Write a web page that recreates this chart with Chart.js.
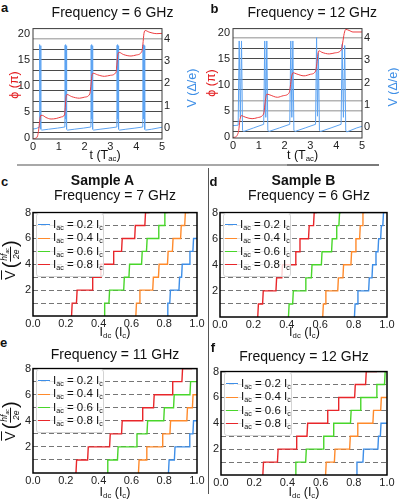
<!DOCTYPE html>
<html>
<head>
<meta charset="utf-8">
<script src="https://cdn.jsdelivr.net/npm/chart.js@4.4.0/dist/chart.umd.min.js"></script>
<style>
body { margin: 0; background: #fff; }
#page { position: relative; width: 399px; height: 502px; overflow: hidden; font-family: "Liberation Sans", Arial, sans-serif; color: #111; }
canvas { position: absolute; }
.txt { position: absolute; white-space: nowrap; line-height: 1; transform: translate(-50%, -50%); }
.rot { transform: translate(-50%, -50%) rotate(-90deg); }
.title { font-size: 14px; }
.bold { font-weight: bold; }
.letter { font-weight: bold; font-size: 13px; }
.axlab { font-size: 12.5px; }
sub { font-size: 0.62em; vertical-align: -0.3em; line-height: 0; }
.legend { position: absolute; width: 68px; height: 64px; box-sizing: border-box; background: rgba(255,255,255,0.8); border: 1px solid #d4d4d4; border-radius: 3px; }
.legend .row { position: absolute; left: 1px; height: 13px; line-height: 13px; font-size: 11.5px; white-space: nowrap; }
.swatch { display: inline-block; width: 12px; height: 0; border-top: 1.5px solid; vertical-align: middle; margin-right: 3px; }
.vlab { display: flex; align-items: center; font-size: 14px; }
.vbar { text-decoration: overline; margin-right: 2px; }
.paren { font-size: 20px; }
.frac { display: inline-flex; flex-direction: column; align-items: center; font-size: 8.5px; font-style: italic; }
.frac .num { padding: 0 1px 1px 1px; }
.frac .den { border-top: 0.8px solid #111; padding-top: 1px; width: 100%; text-align: center; }
.hline { position: absolute; height: 2px; }
.vline { position: absolute; width: 1px; background: #555; }
</style>
</head>
<body>
<div id="page">
  <canvas id="chartA"></canvas>
  <canvas id="chartB"></canvas>
  <canvas id="chartC"></canvas>
  <canvas id="chartD"></canvas>
  <canvas id="chartE"></canvas>
  <canvas id="chartF"></canvas>
</div>
<script>
// a: phase (pi) and voltage (Delta/e) vs time, 6 GHz
var aPhiT = [0, 0.1, 0.18, 0.22, 0.26, 0.3, 0.36, 0.5, 0.7, 0.9, 1.1, 1.22, 1.25, 1.28, 1.32, 1.5, 1.8, 2.0, 2.2, 2.24, 2.28, 2.33, 2.5, 2.77, 3.0, 3.22, 3.25, 3.29, 3.34, 3.5, 3.8, 4.0, 4.22, 4.26, 4.3, 4.35, 4.5, 4.8, 5.0];
var aPhi = [-0.2, -0.1, 0.4, 1.5, 3.2, 4.3, 4.3, 3.9, 3.6, 3.7, 4.0, 4.4, 5.8, 7.8, 8.3, 7.9, 7.6, 7.8, 8.4, 9.8, 11.8, 12.4, 12.1, 11.8, 12.0, 12.6, 14.0, 16.0, 16.4, 16.0, 15.7, 15.9, 16.6, 18.0, 20.0, 20.6, 20.3, 20.0, 20.05];
var aVT = [0, 0.12, 0.235, 0.245, 0.257, 0.27, 0.282, 0.295, 0.31, 0.34, 0.6, 0.95,
  1.235, 1.245, 1.257, 1.27, 1.282, 1.295, 1.31, 1.34, 1.6, 1.95,
  2.245, 2.255, 2.267, 2.28, 2.292, 2.305, 2.32, 2.35, 2.6, 2.95,
  3.25, 3.26, 3.272, 3.285, 3.297, 3.31, 3.325, 3.355, 3.6, 3.95,
  4.255, 4.265, 4.277, 4.29, 4.302, 4.315, 4.33, 4.36, 4.6, 5.0];
var aV = [-0.05, -0.03, 0.03, 3.72, 0.4, 3.75, 0.4, 3.7, -0.06, -0.1, -0.06, -0.01,
  0.04, 3.72, 0.4, 3.75, 0.4, 3.7, -0.06, -0.1, -0.06, -0.01,
  0.04, 3.72, 0.4, 3.75, 0.4, 3.7, -0.06, -0.1, -0.06, -0.01,
  0.04, 3.72, 0.4, 3.75, 0.4, 3.7, -0.06, -0.1, -0.06, -0.01,
  0.04, 3.72, 0.4, 3.75, 0.4, 3.7, -0.06, -0.1, -0.06, 0.03];

// b: same at 12 GHz
var bPhiT = [0, 0.1, 0.16, 0.22, 0.27, 0.33, 0.4, 0.5, 0.74, 0.95, 1.14, 1.2, 1.25, 1.31, 1.4, 1.72, 1.95, 2.18, 2.22, 2.27, 2.33, 2.45, 2.75, 3.0, 3.2, 3.25, 3.29, 3.33, 3.45, 3.73, 3.95, 4.2, 4.25, 4.31, 4.37, 4.5, 4.65, 5.0];
var bPhi = [-0.1, 0.0, 0.3, 1.2, 3.3, 4.1, 3.95, 3.75, 3.5, 3.7, 4.1, 4.7, 6.8, 8.2, 8.1, 7.6, 7.9, 8.5, 9.6, 11.5, 12.3, 12.1, 11.7, 12.0, 12.6, 14.0, 15.8, 16.5, 16.2, 15.9, 16.1, 16.7, 18.0, 19.8, 20.6, 20.4, 20.1, 20.1];
var bVT = [0, 0.2, 0.24, 0.285, 0.33, 0.37, 0.41, 0.8,
  1.19, 1.23, 1.27, 1.31, 1.35, 1.39, 1.8,
  2.2, 2.24, 2.28, 2.32, 2.36, 2.4, 2.8,
  3.2, 3.24, 3.275, 3.31, 3.35, 3.39, 3.8,
  4.19, 4.23, 4.28, 4.33, 4.37, 4.41, 4.8, 5.0];
var bV = [0.08, 0.1, 3.85, 0.45, 3.85, -0.12, -0.18, -0.02,
  0.14, 3.85, 0.45, 3.85, -0.12, -0.18, -0.02,
  0.14, 3.85, 0.45, 3.85, -0.12, -0.18, -0.02,
  0.14, 4.0, 0.5, 3.3, -0.12, -0.18, -0.02,
  0.14, 3.7, 0.45, 3.65, -0.12, -0.2, -0.02, 0.05];

// c-f: I_dc (I_c) where each Shapiro step starts; order blue, orange, green, red
var iacLabels = ['0.2', '0.4', '0.6', '0.8'];
var cRises = [
  [0.818, 0.834, 0.89, 0.906, 0.953, 0.975],
  [0.627, 0.648, 0.73, 0.765, 0.82, 0.85, 0.9, 0.925],
  [0.433, 0.463, 0.553, 0.585, 0.662, 0.692, 0.763, 0.8],
  [0.235, 0.265, 0.36, 0.41, 0.488, 0.54, 0.62, 0.682]
];
var cEnds = [1.0, 0.95, 0.82, 0.71];
var dRises = [
  [0.805, 0.822, 0.89, 0.91, 0.93, 0.946, 0.962, 0.975],
  [0.615, 0.63, 0.705, 0.736, 0.784, 0.81, 0.836, 0.852],
  [0.41, 0.435, 0.51, 0.547, 0.607, 0.668, 0.695, 0.712],
  [0.226, 0.255, 0.335, 0.37, 0.45, 0.475, 0.53, 0.56]
];
var dEnds = [0.985, 0.865, 0.725, 0.58];
var eRises = [
  [0.826, 0.862, 0.952, 0.975],
  [0.643, 0.69, 0.787, 0.835, 0.938, 0.972],
  [0.452, 0.515, 0.63, 0.695, 0.797, 0.857, 0.957],
  [0.262, 0.333, 0.467, 0.54, 0.665, 0.735, 0.848, 0.908]
];
var eEnds = [1.0, 1.0, 1.0, 0.97];
var fRises = [
  [0.815, 0.855, 0.945, 0.96],
  [0.63, 0.683, 0.775, 0.82, 0.915, 0.962],
  [0.447, 0.51, 0.615, 0.675, 0.78, 0.838, 0.935, 0.985],
  [0.252, 0.34, 0.452, 0.518, 0.639, 0.705, 0.805, 0.871]
];
var fEnds = [1.0, 1.0, 1.0, 0.94];

var stepColors = ['#3d8ee8', '#ff8a2b', '#48d62a', '#e8262a'];
var phiColor = '#ec3d40';
var vColor = '#5ea4f2';
var RISE = 0.004;

Chart.defaults.font.family = "'Liberation Sans', Arial, sans-serif";
Chart.defaults.color = '#222';

var page = document.getElementById('page');

// box around the plot area, drawn over the lines
var framePlugin = {
  id: 'frame',
  afterDatasetsDraw: function (chart, args, opts) {
    var a = chart.chartArea, c = chart.ctx;
    c.save();
    c.strokeStyle = opts.color;
    c.lineWidth = opts.width;
    c.strokeRect(a.left, a.top, a.right - a.left, a.bottom - a.top);
    c.restore();
  }
};

function pts(xs, ys) {
  return xs.map(function (x, i) { return { x: x, y: ys[i] }; });
}

function stairs(rises, end) {
  var p = [];
  rises.forEach(function (x, k) {
    p.push({ x: x, y: k });
    p.push({ x: x + RISE, y: k + 1 });
  });
  p.push({ x: end, y: rises.length });
  return p;
}

function range(a, b) {
  var r = [];
  for (var i = a; i <= b; i++) r.push({ value: i });
  return r;
}

function place(el, box, yW, padTop, rightW, xH) {
  el.width = yW + box[2] - box[0] + rightW;
  el.height = padTop + box[3] - box[1] + xH;
  el.style.left = (box[0] - yW) + 'px';
  el.style.top = (box[1] - padTop) + 'px';
}

function traceChart(id, box, phiT, phi, vT, v, phiRange, vRange, lightLines) {
  var el = document.getElementById(id);
  place(el, box, 30, 4, 16, 16);
  new Chart(el, {
    type: 'line',
    data: {
      datasets: [
        { data: pts(phiT, phi), borderColor: phiColor, borderWidth: 1, pointRadius: 0, cubicInterpolationMode: 'monotone', yAxisID: 'y', order: 0 },
        { data: pts(vT, v), borderColor: vColor, borderWidth: 1, pointRadius: 0, tension: 0, yAxisID: 'y1', order: 1 }
      ]
    },
    options: {
      responsive: false, animation: false, events: [],
      layout: { padding: { top: 4, right: 16 }, autoPadding: false },
      plugins: { legend: { display: false }, tooltip: { enabled: false }, frame: { color: '#3a3a3a', width: 1 } },
      scales: {
        x: {
          type: 'linear', min: 0, max: 5,
          afterBuildTicks: function (s) { s.ticks = range(0, 5); },
          afterFit: function (s) { s.height = 16; },
          ticks: { font: { size: 11 }, padding: 1, maxRotation: 0, autoSkip: false },
          grid: { display: false, drawTicks: false }, border: { display: false }
        },
        y: {
          position: 'left', min: phiRange[0], max: phiRange[1],
          afterBuildTicks: function (s) { s.ticks = range(0, 20); },
          afterFit: function (s) { s.width = 30; },
          ticks: { font: { size: 11 }, padding: 3, autoSkip: false, callback: function (val) { return val % 5 === 0 ? val : ''; } },
          grid: {
            drawTicks: false,
            color: function (c) {
              var val = c.tick.value;
              if (val % 2 === 0) return 'rgba(0,0,0,0)';
              return lightLines.indexOf(val) >= 0 ? '#b4b4b4' : '#4a4a4a';
            },
            lineWidth: function (c) { return lightLines.indexOf(c.tick.value) >= 0 ? 1.6 : 1; }
          },
          border: { display: false }
        },
        y1: {
          position: 'right', min: vRange[0], max: vRange[1],
          afterBuildTicks: function (s) { s.ticks = range(0, 4); },
          afterFit: function (s) { s.width = 16; },
          ticks: { font: { size: 11 }, padding: 2, autoSkip: false },
          grid: { display: false, drawTicks: false }, border: { display: false }
        }
      }
    },
    plugins: [framePlugin]
  });
}

function stepChart(id, box, rises, ends, yW) {
  var el = document.getElementById(id);
  place(el, box, yW, 5, 11, 16);
  var sets = rises.map(function (r, i) {
    return { data: stairs(r, ends[i]), borderColor: stepColors[i], borderWidth: 1.4, pointRadius: 0, tension: 0 };
  });
  new Chart(el, {
    type: 'line',
    data: { datasets: sets },
    options: {
      responsive: false, animation: false, events: [],
      layout: { padding: { top: 5, right: 11 }, autoPadding: false },
      plugins: { legend: { display: false }, tooltip: { enabled: false }, frame: { color: '#000', width: 1.5 } },
      scales: {
        x: {
          type: 'linear', min: 0, max: 1,
          afterBuildTicks: function (s) { s.ticks = [0, 0.2, 0.4, 0.6, 0.8, 1].map(function (v) { return { value: v }; }); },
          afterFit: function (s) { s.height = 16; },
          ticks: { font: { size: 11 }, padding: 1, maxRotation: 0, autoSkip: false, callback: function (val) { return val.toFixed(1); } },
          grid: { display: false, drawTicks: false }, border: { display: false }
        },
        y: {
          min: 0, max: 8,
          afterBuildTicks: function (s) { s.ticks = range(0, 8); },
          afterFit: function (s) { s.width = yW; },
          ticks: { font: { size: 11 }, padding: 2, autoSkip: false, callback: function (val) { return (val > 0 && val % 2 === 0) ? val : ''; } },
          grid: {
            drawTicks: false, lineWidth: 1.1,
            color: function (c) { var val = c.tick.value; return (val > 0 && val < 8) ? '#767676' : 'rgba(0,0,0,0)'; }
          },
          border: { display: false, dash: [5, 3] }
        }
      }
    },
    plugins: [framePlugin]
  });
  addLegend(box);
}

function addText(html, x, y, cls, color) {
  var d = document.createElement('div');
  d.className = 'txt ' + cls;
  d.style.left = x + 'px';
  d.style.top = y + 'px';
  if (color) d.style.color = color;
  d.innerHTML = html;
  page.appendChild(d);
}

function addLegend(box) {
  var lg = document.createElement('div');
  lg.className = 'legend';
  lg.style.left = (box[0] + 3) + 'px';
  lg.style.top = (box[1] + 4) + 'px';
  iacLabels.forEach(function (lab, i) {
    var row = document.createElement('div');
    row.className = 'row';
    row.style.top = (4 + i * 13.3) + 'px';
    row.innerHTML = '<span class="swatch" style="border-color:' + stepColors[i] + '"></span>I<sub>ac</sub> = ' + lab + ' I<sub>c</sub>';
    lg.appendChild(row);
  });
  page.appendChild(lg);
}

function addLine(cls, x, y, w, h, color) {
  var d = document.createElement('div');
  d.className = cls;
  d.style.left = x + 'px';
  d.style.top = y + 'px';
  d.style.width = w + 'px';
  d.style.height = h + 'px';
  d.style.background = color;
  page.appendChild(d);
}

traceChart('chartA', [33, 23, 178, 139], aPhiT, aPhi, aVT, aV, [-0.24, 20.97], [-0.5, 4.47], [19]);
traceChart('chartB', [233, 23, 378, 138], bPhiT, bPhi, bVT, bV, [-0.2, 20.75], [-0.47, 4.4], [19, 7, 5]);
stepChart('chartC', [33, 209, 197, 316], cRises, cEnds, 28);
stepChart('chartD', [220, 209, 387, 317], dRises, dEnds, 12);
stepChart('chartE', [33, 365, 197, 473], eRises, eEnds, 28);
stepChart('chartF', [221, 368, 387, 475], fRises, fEnds, 12);

// separators
addLine('hline', 17, 164, 270, 2, '#a8a8a8');
addLine('hline', 287, 164, 92, 2, '#7a7a7a');
addLine('vline', 208, 168, 1, 326, '#555');

// panel letters and titles
addText('a', 4.5, 7.3, 'letter');
addText('b', 214.5, 7.5, 'letter');
addText('c', 4.5, 180.5, 'letter');
addText('d', 213.5, 181, 'letter');
addText('e', 3.5, 341.5, 'letter');
addText('f', 213, 347, 'letter');
addText('Frequency = 6 GHz', 112.5, 12.3, 'title');
addText('Frequency = 12 GHz', 312.3, 12, 'title');
addText('Sample A', 102.5, 180, 'title bold');
addText('Sample B', 303.5, 180, 'title bold');
addText('Frequency = 7 GHz', 115, 195, 'title');
addText('Frequency = 6 GHz', 309, 195, 'title');
addText('Frequency = 11 GHz', 115, 354, 'title');
addText('Frequency = 12 GHz', 304, 356, 'title');

// axis titles
addText('ϕ (π)', 13.5, 85, 'axlab rot', '#e31a1c');
addText('V (Δ/e)', 192, 87.5, 'axlab rot', '#3f8fe6');
addText('ϕ (π)', 211, 83, 'axlab rot', '#e31a1c');
addText('V (Δ/e)', 392.5, 87, 'axlab rot', '#3f8fe6');
addText('t (T<sub>ac</sub>)', 105, 155, 'axlab');
addText('t (T<sub>ac</sub>)', 302.5, 155, 'axlab');
var idcLab = 'I<sub>dc</sub> (I<sub>c</sub>)';
addText(idcLab, 115, 332, 'axlab');
addText(idcLab, 304.5, 332, 'axlab');
addText(idcLab, 115, 492, 'axlab');
addText(idcLab, 304, 492, 'axlab');
var vLab = '<span class="vbar">V</span><span class="paren">(</span><span class="frac"><span class="num">hf<sub>ac</sub></span><span class="den">2e</span></span><span class="paren">)</span>';
addText(vLab, 10, 260, 'vlab rot');
addText(vLab, 10, 421, 'vlab rot');
</script>
</body>
</html>
